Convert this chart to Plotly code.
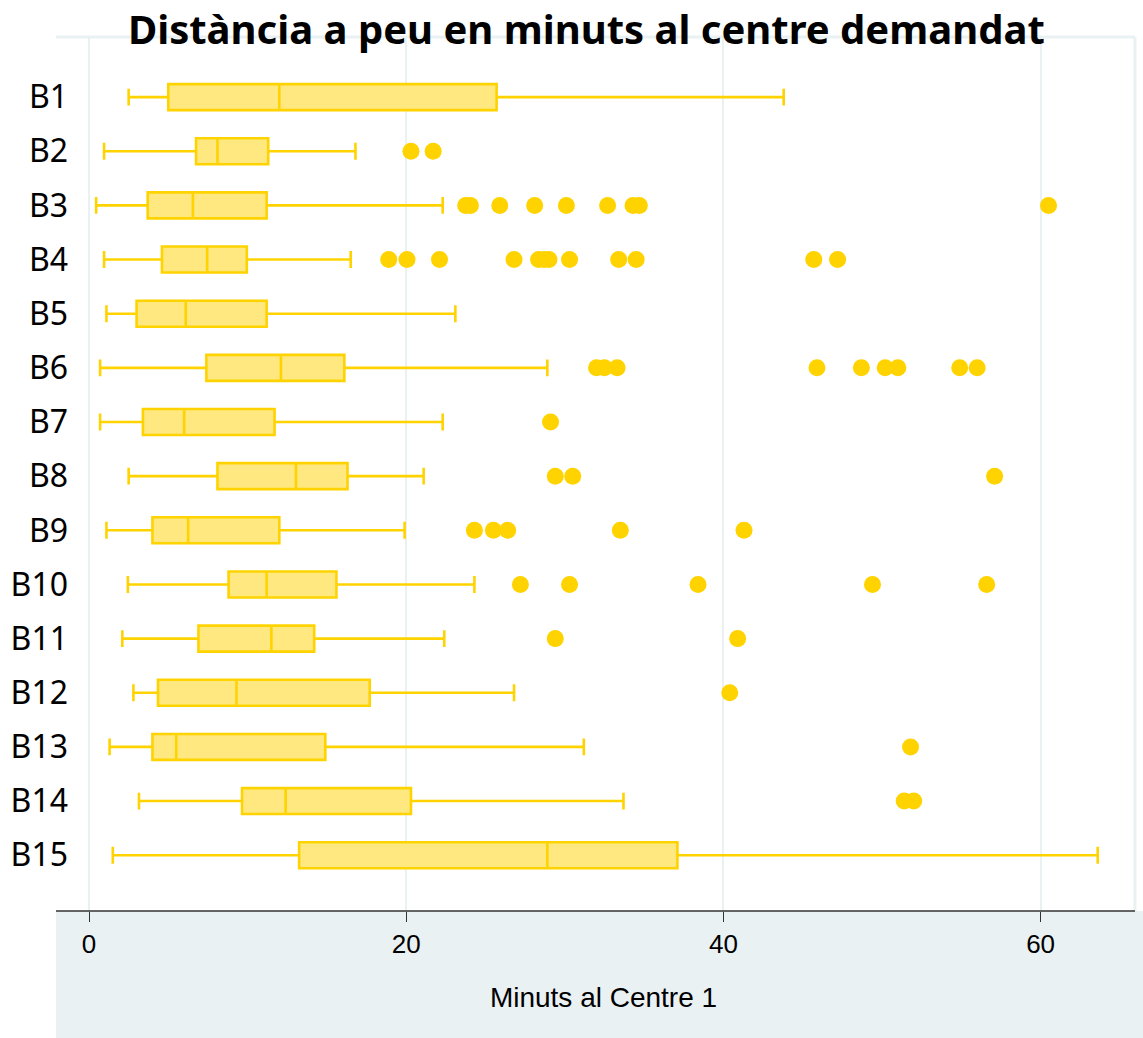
import plotly.graph_objects as go

# Walking distance (minutes) to the requested centre, by group
groups = ["B1", "B2", "B3", "B4", "B5", "B6", "B7", "B8", "B9", "B10",
          "B11", "B12", "B13", "B14", "B15"]

lower_whisker = [2.5, 0.95, 0.45, 0.95, 1.1, 0.7, 0.7, 2.5, 1.1, 2.45,
                 2.1, 2.8, 1.3, 3.15, 1.5]
q1 = [5.0, 6.75, 3.7, 4.6, 3.0, 7.4, 3.4, 8.1, 4.0, 8.8,
      6.9, 4.35, 4.0, 9.65, 13.25]
median = [12.0, 8.1, 6.55, 7.45, 6.1, 12.1, 6.0, 13.05, 6.25, 11.2,
          11.5, 9.3, 5.5, 12.4, 28.9]
q3 = [25.7, 11.3, 11.2, 9.95, 11.2, 16.1, 11.7, 16.3, 12.0, 15.6,
      14.2, 17.7, 14.9, 20.3, 37.1]
upper_whisker = [43.8, 16.8, 22.3, 16.5, 23.1, 28.9, 22.3, 21.1, 19.9, 24.3,
                 22.4, 26.8, 31.2, 33.7, 63.6]

outliers = {
    "B2": [20.3, 21.7],
    "B3": [23.75, 24.05, 25.9, 28.1, 30.1, 32.7, 34.3, 34.7, 60.5],
    "B4": [18.9, 20.05, 22.1, 26.8, 28.35, 28.7, 29.0, 30.3, 33.4, 34.5,
           45.7, 47.2],
    "B6": [32.0, 32.5, 33.3, 45.9, 48.7, 50.2, 51.0, 54.9, 56.0],
    "B7": [29.1],
    "B8": [29.4, 30.5, 57.1],
    "B9": [24.3, 25.5, 26.4, 33.5, 41.3],
    "B10": [27.2, 30.3, 38.4, 49.4, 56.6],
    "B11": [29.4, 40.9],
    "B12": [40.4],
    "B13": [51.8],
    "B14": [51.4, 52.0],
}

x_ticks = [0, 20, 40, 60]

GOLD = "#FFD300"
FILL = "#FFE880"
BAND = "#E9F1F3"

out_x, out_y = [], []
for g, vals in outliers.items():
    out_x.extend(vals)
    out_y.extend([g] * len(vals))

fig = go.Figure()

fig.add_trace(go.Box(
    y=groups,
    q1=q1,
    median=median,
    q3=q3,
    lowerfence=lower_whisker,
    upperfence=upper_whisker,
    orientation="h",
    boxpoints=False,
    fillcolor=FILL,
    line=dict(color=GOLD, width=2.6),
    width=0.48,
    whiskerwidth=0.65,
    showlegend=False,
    hoverinfo="skip",
))

fig.add_trace(go.Scatter(
    x=out_x,
    y=out_y,
    mode="markers",
    marker=dict(color=GOLD, size=17, line=dict(width=0)),
    showlegend=False,
    hoverinfo="skip",
))

W, H = 1143, 1038
ML, MR, MT, MB = 72, 8, 37, 127
plot_w = W - ML - MR
plot_h = H - MT - MB

# shaded band beneath the axis and light frame along top/right
band_left = (56 - ML) / plot_w
fig.add_shape(type="rect", xref="paper", yref="paper",
              x0=band_left, x1=(W - ML) / plot_w, y0=-MB / plot_h, y1=0,
              fillcolor=BAND, line=dict(width=0), layer="below")
fig.add_shape(type="line", xref="paper", yref="paper",
              x0=band_left, x1=1, y0=1, y1=1,
              line=dict(color=BAND, width=3), layer="below")
fig.add_shape(type="line", xref="paper", yref="paper",
              x0=1, x1=1, y0=0, y1=1,
              line=dict(color=BAND, width=3), layer="below")
fig.add_shape(type="line", xref="paper", yref="paper",
              x0=band_left, x1=1, y0=0, y1=0,
              line=dict(color="#333333", width=1.5))

fig.update_layout(
    width=W,
    height=H,
    margin=dict(l=ML, r=MR, t=MT, b=MB),
    paper_bgcolor="white",
    plot_bgcolor="white",
    title=dict(
        text="<b>Distància a peu en minuts al centre demandat</b>",
        font=dict(family="Noto Sans", size=40, color="black"),
        x=0.513, xanchor="center", xref="container",
        y=0.971, yanchor="middle", yref="container",
    ),
    xaxis=dict(
        range=[(ML - 89) / 15.86, (W - MR - 89) / 15.86],
        tickvals=x_ticks,
        ticktext=[str(v) for v in x_ticks],
        ticks="outside",
        ticklen=10,
        tickwidth=1.3,
        tickcolor="#333333",
        tickfont=dict(family="Liberation Sans", size=26, color="black"),
        showgrid=True,
        gridcolor=BAND,
        gridwidth=2,
        zeroline=False,
        showline=False,
        title=dict(text="Minuts al Centre 1",
                   font=dict(family="Liberation Sans", size=28, color="black"),
                   standoff=29),
    ),
    yaxis=dict(
        type="category",
        categoryorder="array",
        categoryarray=groups,
        range=[15.03, -1.11],
        showgrid=False,
        zeroline=False,
        showline=False,
        ticks="",
        ticklabelstandoff=3,
        tickfont=dict(family="Noto Sans", size=32, color="black"),
    ),
)

fig.write_html("out.html")
